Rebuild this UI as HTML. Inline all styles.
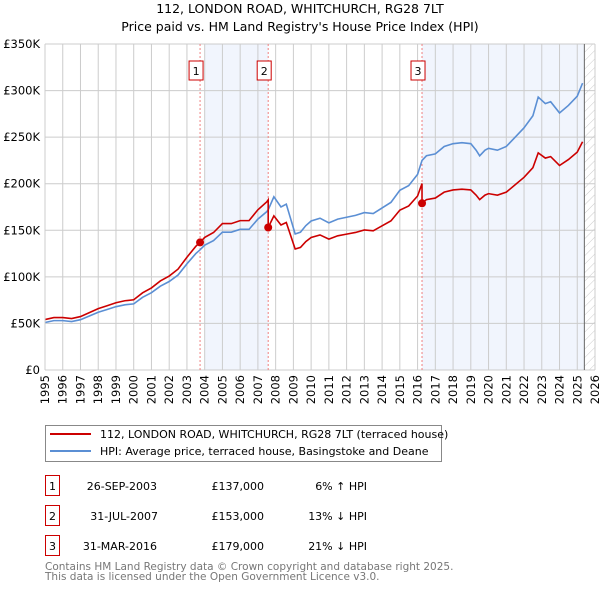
<!DOCTYPE html>
<html><head><meta charset="utf-8"><style>
body{margin:0;background:#fff;font-family:"DejaVu Sans","Liberation Sans",sans-serif;}
svg text{font-family:"DejaVu Sans","Liberation Sans",sans-serif;}
</style></head><body>
<svg id="c" width="600" height="590" xmlns="http://www.w3.org/2000/svg">
<defs><pattern id="hatch" width="6" height="6" patternUnits="userSpaceOnUse" patternTransform="rotate(45)"><line x1="0" y1="0" x2="0" y2="6" stroke="#ccc" stroke-width="1"/></pattern></defs>
<text x="300" y="13" text-anchor="middle" font-size="12.5" fill="#000">112, LONDON ROAD, WHITCHURCH, RG28 7LT</text>
<text x="300" y="31" text-anchor="middle" font-size="12.5" fill="#000">Price paid vs. HM Land Registry's House Price Index (HPI)</text>
<g id="plot"></g>
<g>
<rect x="45.5" y="425.5" width="396" height="36" fill="#fff" stroke="#888"/>
<line x1="50" y1="434" x2="91" y2="434" stroke="#cc0000" stroke-width="2"/>
<text x="100" y="438" font-size="11">112, LONDON ROAD, WHITCHURCH, RG28 7LT (terraced house)</text>
<line x1="50" y1="451" x2="91" y2="451" stroke="#5b8fd4" stroke-width="2"/>
<text x="100" y="455" font-size="11">HPI: Average price, terraced house, Basingstoke and Deane</text>
</g>
<g font-size="11">
<rect x="45.5" y="475.5" width="14" height="20" fill="none" stroke="#cc0000"/><text x="52.5" y="490" text-anchor="middle">1</text>
<text x="157" y="490" text-anchor="end">26-SEP-2003</text><text x="264" y="490" text-anchor="end">£137,000</text><text x="367" y="490" text-anchor="end">6% ↑ HPI</text>
<rect x="45.5" y="505.5" width="14" height="20" fill="none" stroke="#cc0000"/><text x="52.5" y="520" text-anchor="middle">2</text>
<text x="158" y="520" text-anchor="end">31-JUL-2007</text><text x="264" y="520" text-anchor="end">£153,000</text><text x="367" y="520" text-anchor="end">13% ↓ HPI</text>
<rect x="45.5" y="535.5" width="14" height="20" fill="none" stroke="#cc0000"/><text x="52.5" y="550" text-anchor="middle">3</text>
<text x="157" y="550" text-anchor="end">31-MAR-2016</text><text x="264" y="550" text-anchor="end">£179,000</text><text x="367" y="550" text-anchor="end">21% ↓ HPI</text>
</g>
<text x="45" y="570" font-size="10.5" fill="#777">Contains HM Land Registry data © Crown copyright and database right 2025.</text>
<text x="45" y="580" font-size="10.5" fill="#777">This data is licensed under the Open Government Licence v3.0.</text>
</svg>
<script>
const hpiYears=[1995,1995.5,1996,1996.5,1997,1997.5,1998,1998.5,1999,1999.5,2000,2000.5,2001,2001.5,2002,2002.5,2003,2003.5,2003.74,2004,2004.5,2005,2005.5,2006,2006.5,2007,2007.5,2007.58,2007.9,2008.3,2008.6,2009.1,2009.4,2009.7,2010,2010.5,2011,2011.5,2012,2012.5,2013,2013.5,2014,2014.5,2015,2015.5,2016,2016.25,2016.5,2017,2017.5,2018,2018.5,2019,2019.3,2019.5,2019.8,2020,2020.5,2021,2021.5,2022,2022.5,2022.8,2023.2,2023.5,2024,2024.5,2025,2025.3];
const hpiValues=[51,53,53,52,54,58,62,65,68,70,71,78,83,90,95,102,114,125,129,134,139,148,148,151,151,162,170,172,186,175,178,146,148,155,160,163,158,162,164,166,169,168,174,180,193,198,210,225,230,232,240,243,244,243,236,230,236,238,236,240,250,260,273,293,286,288,276,284,294,308];
const saleYears=[2003.74,2007.58,2016.25];
const salePrices=[137,153,179];
const yTicks=[0,50,100,150,200,250,300,350];
const yTickLabels=["£0","£50K","£100K","£150K","£200K","£250K","£300K","£350K"];
const xTicks=[1995,1996,1997,1998,1999,2000,2001,2002,2003,2004,2005,2006,2007,2008,2009,2010,2011,2012,2013,2014,2015,2016,2017,2018,2019,2020,2021,2022,2023,2024,2025,2026];

const NS="http://www.w3.org/2000/svg";
const L=45,R=595,T=44,B=370;
const xs=y=>L+(y-1995)/(2026-1995)*(R-L);
const ys=v=>B-v/350*(B-T);
const g=document.getElementById('plot');
function mk(t,a){const e=document.createElementNS(NS,t);for(const k in a)e.setAttribute(k,a[k]);g.appendChild(e);return e;}
function hpiAt(t){for(let i=0;i<hpiYears.length-1;i++){if(t>=hpiYears[i]&&t<=hpiYears[i+1]){const f=(t-hpiYears[i])/(hpiYears[i+1]-hpiYears[i]);return hpiValues[i]+f*(hpiValues[i+1]-hpiValues[i]);}}return hpiValues[hpiValues.length-1];}
let s=mk('rect',{x:xs(2004),y:T,width:xs(saleYears[1])-xs(2004),height:B-T,fill:'#eef3fc',opacity:0.8});


s=mk('rect',{x:xs(saleYears[2]),y:T,width:xs(2025.4)-xs(saleYears[2]),height:B-T,fill:'#eef3fc',opacity:0.8});


s=mk('rect',{x:xs(2025.4),y:T,width:R-xs(2025.4),height:B-T,fill:'url(#hatch)'});


xTicks.forEach(t=>{const e=mk('line',{x1:xs(t),x2:xs(t),y1:T,y2:B,stroke:'#ccc','stroke-width':1});


const tx=mk('text',{x:0,y:0,'font-size':11.5,'text-anchor':'end',transform:`translate(${xs(t)+4},375) rotate(-90)`});tx.textContent=t;

});
yTicks.forEach((v,i)=>{const e=mk('line',{x1:L,x2:R,y1:ys(v),y2:ys(v),stroke:'#ccc','stroke-width':1});


const tx=mk('text',{x:40,y:ys(v)+4,'font-size':11.5,'text-anchor':'end'});tx.textContent=yTickLabels[i];

});
let ln=mk('line',{x1:xs(2025.4),x2:xs(2025.4),y1:T,y2:B,stroke:'#666','stroke-width':1});


saleYears.forEach((t,i)=>{const e=mk('line',{x1:xs(t),x2:xs(t),y1:T,y2:B,stroke:'#f08080','stroke-width':1,'stroke-dasharray':'2,2'});


const r=mk('rect',{x:xs(t)-7-4,y:61,width:14,height:19,fill:'#fff',stroke:'#cc0000'});


const tx=mk('text',{x:xs(t)-4,y:75,'font-size':11,'text-anchor':'middle'});tx.textContent=i+1;

});
let p=mk('polyline',{points:hpiYears.map((t,i)=>xs(t)+','+ys(hpiValues[i])).join(' '),fill:'none',stroke:'#5b8fd4','stroke-width':1.6});


let pts=[];
for(let k=-1;k<saleYears.length;k++){const si=Math.max(k,0);const ratio=salePrices[si]/hpiAt(saleYears[si]);
const a=k<0?1995:saleYears[k],b=k+1<saleYears.length?saleYears[k+1]:2025.3;
const seg=[a,...hpiYears.filter(t=>t>a&&t<b),b];
seg.forEach(t=>pts.push(xs(t)+','+ys(hpiAt(t)*ratio)));}
p=mk('polyline',{points:pts.join(' '),fill:'none',stroke:'#cc0000','stroke-width':1.6});


saleYears.forEach((t,i)=>{const c=mk('circle',{cx:xs(t),cy:ys(salePrices[i]),r:4,fill:'#cc0000'});

});
let ax=mk('line',{x1:L,x2:L,y1:T,y2:B,stroke:'#ccc'});


</script>
</body></html>
